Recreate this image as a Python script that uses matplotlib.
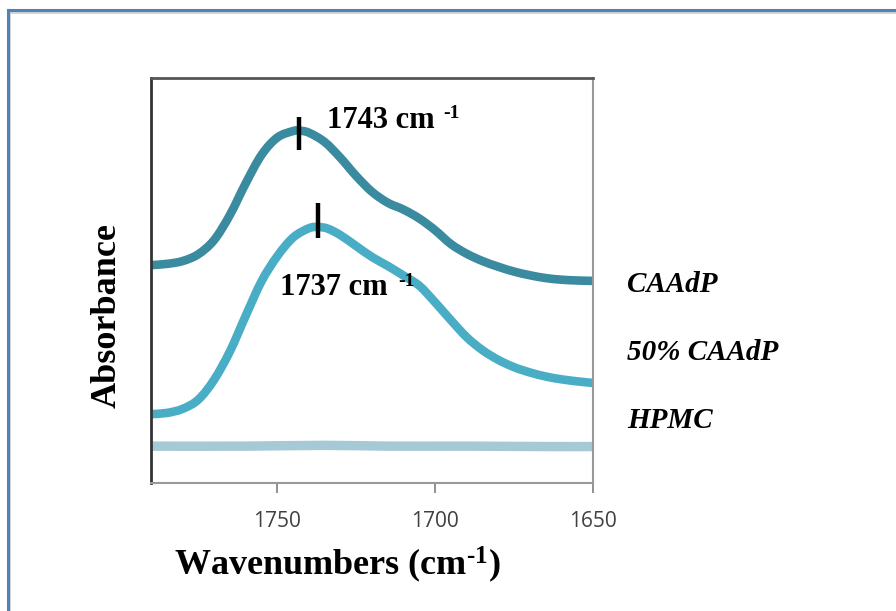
import numpy as np
import matplotlib
matplotlib.use("Agg")
import matplotlib.pyplot as plt
from matplotlib.path import Path
from matplotlib.patches import PathPatch
from matplotlib.lines import Line2D

plt.rcParams["mathtext.fontset"] = "custom"
plt.rcParams["mathtext.rm"] = "Liberation Serif:bold"
plt.rcParams["mathtext.it"] = "Liberation Serif:bold:italic"
plt.rcParams["mathtext.bf"] = "Liberation Serif:bold"

# FTIR carbonyl region (arbitrary absorbance units, offset for display)
wn_caadp = [1790, 1785, 1780, 1775, 1770, 1765, 1760, 1755, 1750, 1745, 1743, 1740,
            1735, 1730, 1725, 1720, 1715, 1710, 1705, 1700, 1695, 1690, 1685, 1680,
            1675, 1670, 1665, 1660, 1655, 1650]
ab_caadp = [53.8, 54.1, 54.8, 56.5, 60.0, 66.2, 74.0, 81.0, 85.3, 86.9, 87.0, 86.5,
            84.2, 80.3, 75.8, 71.9, 69.2, 67.5, 65.3, 62.4, 59.0, 56.6, 54.8, 53.4,
            52.2, 51.3, 50.6, 50.2, 50.0, 49.9]

wn_50 = [1790, 1785, 1780, 1775, 1770, 1765, 1760, 1755, 1750, 1745, 1740, 1737,
         1734, 1730, 1725, 1720, 1715, 1710, 1705, 1700, 1695, 1690, 1685, 1680,
         1675, 1670, 1665, 1660, 1655, 1650]
ab_50 = [17.0, 17.3, 18.3, 20.6, 25.5, 32.5, 41.3, 49.8, 56.0, 60.6, 62.9, 63.2,
         62.8, 61.2, 58.5, 55.8, 53.6, 51.2, 48.7, 44.6, 40.2, 36.0, 32.8, 30.4,
         28.6, 27.3, 26.3, 25.6, 25.1, 24.7]

wn_hpmc = [1790, 1760, 1735, 1715, 1690, 1665, 1650]
ab_hpmc = [9.1, 9.1, 9.3, 9.1, 9.1, 9.0, 9.0]

series_names = ["CAAdP", "50% CAAdP", "HPMC"]
peak_wn = [1743, 1737]
peak_ab = [87.0, 63.2]
x_ticks = [1750, 1700, 1650]

colors = ["#3a8b9f", "#4aadc6", "#a5c9d5"]


def smooth_path(xs, ys):
    """Catmull-Rom curve through the points, expressed as cubic Bezier segments."""
    pts = np.column_stack([xs, ys]).astype(float)
    verts = [pts[0]]
    codes = [Path.MOVETO]
    n = len(pts)
    for i in range(n - 1):
        p0 = pts[i - 1] if i > 0 else pts[i]
        p1 = pts[i]
        p2 = pts[i + 1]
        p3 = pts[i + 2] if i + 2 < n else pts[i + 1]
        c1 = p1 + (p2 - p0) / 6.0
        c2 = p2 - (p3 - p1) / 6.0
        verts += [c1, c2, p2]
        codes += [Path.CURVE4] * 3
    return Path(verts, codes)


fig = plt.figure(figsize=(8.96, 6.11), dpi=100)
ax = fig.add_axes([151 / 896, 1 - 483 / 611, 442 / 896, 405 / 611])

for (xs, ys), c, lw in zip([(wn_caadp, ab_caadp), (wn_50, ab_50), (wn_hpmc, ab_hpmc)],
                           colors, [6.2, 6.2, 6.8]):
    ax.add_patch(PathPatch(smooth_path(xs, ys), facecolor="none", edgecolor=c,
                           lw=lw, capstyle="butt", joinstyle="round"))

# peak markers
ax.vlines(peak_wn[0], peak_ab[0] - 4.8, peak_ab[0] + 3.4, color="black", lw=3.2)
ax.vlines(peak_wn[1], peak_ab[1] - 2.7, peak_ab[1] + 5.9, color="black", lw=3.2)

ax.set_xlim(1790, 1650)
ax.set_ylim(0, 100)
ax.set_yticks([])
ax.set_xticks(x_ticks)
ax.set_xticklabels([str(t) for t in x_ticks], fontsize=15, color="#404040",
                   family="Open Sans")
ax.tick_params(axis="x", direction="out", length=7, width=1.3, color="#888888", pad=13)

for side, c, w in [("left", "#333333", 2.0), ("top", "#555555", 2.0),
                   ("right", "#999999", 1.5), ("bottom", "#999999", 1.5)]:
    ax.spines[side].set_color(c)
    ax.spines[side].set_linewidth(w)

# peak annotations
ax.text(peak_wn[0] - 8.8, peak_ab[0] + 0.7, f"{peak_wn[0]} cm", fontsize=22,
        family="Liberation Serif", weight="bold", ha="left", va="baseline")
ax.text(1697.5, 90.1, "-1", fontsize=14, family="Liberation Serif", weight="bold",
        ha="left", va="baseline")
ax.text(1749.0, 46.4, f"{peak_wn[1]} cm", fontsize=22,
        family="Liberation Serif", weight="bold", ha="left", va="baseline")
ax.text(1711.7, 48.6, "-1", fontsize=14, family="Liberation Serif", weight="bold",
        ha="left", va="baseline")

# series labels to the right of the plot
for name, ypix in zip(series_names, [285, 352, 420]):
    fig.text(627 / 896, 1 - ypix / 611, name, fontsize=21, family="Liberation Serif",
             weight="bold", style="italic", ha="left", va="center")

fig.text(107 / 896, 1 - 316 / 611, "Absorbance", fontsize=26, family="Liberation Serif",
         weight="bold", rotation=90, ha="center", va="center")
fig.text(337 / 896, 1 - 575 / 611, r"Wavenumbers (cm$^{\text{-1}}$)", fontsize=26,
         family="Liberation Serif", weight="bold", ha="center", va="baseline")

# frame around the figure
fig.add_artist(Line2D([9 / 896, 9 / 896], [0, 1 - 11 / 611], transform=fig.transFigure,
                      color="#d0d0d0", lw=2.0))
fig.add_artist(Line2D([8 / 896, 1], [1 - 12 / 611, 1 - 12 / 611], transform=fig.transFigure,
                      color="#d0d0d0", lw=2.0))
fig.add_artist(Line2D([7.5 / 896, 7.5 / 896], [0, 1 - 9.5 / 611], transform=fig.transFigure,
                      color="#4f81bd", lw=2.2, solid_capstyle="projecting"))
fig.add_artist(Line2D([7.5 / 896, 1], [1 - 9.5 / 611, 1 - 9.5 / 611], transform=fig.transFigure,
                      color="#4f81bd", lw=2.2, solid_capstyle="projecting"))

fig.savefig("out.png", dpi=100)
